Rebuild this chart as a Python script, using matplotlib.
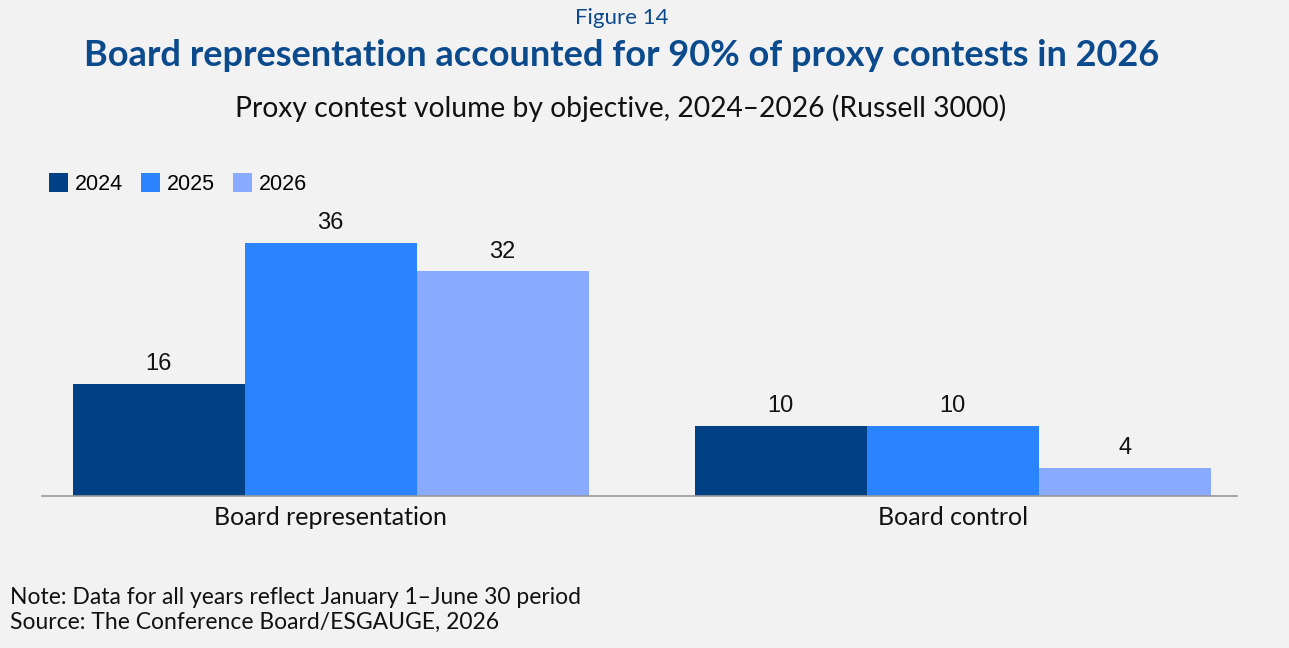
import matplotlib
matplotlib.use("Agg")
import matplotlib.pyplot as plt
import numpy as np

categories = ["Board representation", "Board control"]
years = ["2024", "2025", "2026"]
values_2024 = [16, 10]
values_2025 = [36, 10]
values_2026 = [32, 4]
series = [values_2024, values_2025, values_2026]
colors = ["#004185", "#2b84ff", "#88aaff"]

BG = "#f2f2f2"
TITLE_C = "#0b4a8c"
W, H = 1289, 648
fig = plt.figure(figsize=(W / 100, H / 100), dpi=100, facecolor=BG)

# axes placement in pixels
ax_left, ax_right = 42, 1237
ax_bottom, ax_top = 496, 200
ax = fig.add_axes([ax_left / W, 1 - ax_bottom / H, (ax_right - ax_left) / W, (ax_bottom - ax_top) / H])
ax.set_facecolor(BG)

x = np.arange(len(categories))
bw = 0.2765
xl0 = -0.464
ax.set_xlim(xl0, xl0 + (ax_right - ax_left) / 622)
ax.set_ylim(0, (ax_bottom - ax_top) / 7.03)

for i, (vals, c, lab) in enumerate(zip(series, colors, years)):
    pos = x + (i - 1) * bw
    ax.bar(pos, vals, width=bw, color=c, label=lab, linewidth=0)
    for p, v in zip(pos, vals):
        ax.text(p, v + 1.2, str(v), ha="center", va="bottom",
                fontsize=17, family="Liberation Sans", color="#111111")

for s in ["top", "right", "left"]:
    ax.spines[s].set_visible(False)
ax.spines["bottom"].set_color("#999999")
ax.spines["bottom"].set_linewidth(1.2)
ax.set_yticks([])
ax.set_xticks(x)
ax.set_xticklabels(categories, fontsize=18, family="Lato", color="#111111")
ax.tick_params(axis="x", length=0, pad=7)

# Legend
fig.legend(loc="upper left", bbox_to_anchor=(40 / W, 1 - 164 / H), ncol=3, frameon=False,
           prop={"family": "Liberation Sans", "size": 15.5}, handlelength=0.9, handleheight=1.0,
           handletextpad=0.3, columnspacing=0.85, borderaxespad=0)

# Titles
fig.text(622 / W, 1 - 18 / H, "Figure 14", ha="center", va="center", fontsize=16,
         family="Lato", color=TITLE_C)
fig.text(622 / W, 1 - 55 / H, "Board representation accounted for 90% of proxy contests in 2026",
         ha="center", va="center", fontsize=26, family="Lato", weight="bold", color=TITLE_C)
fig.text(621 / W, 1 - 108 / H, "Proxy contest volume by objective, 2024\u20132026 (Russell 3000)",
         ha="center", va="center", fontsize=20.3, family="Lato", color="#111111")

fig.text(10 / W, 1 - 597 / H, "Note: Data for all years reflect January 1\u2013June 30 period",
         ha="left", va="center", fontsize=16.5, family="Lato", color="#111111")
fig.text(10 / W, 1 - 622 / H, "Source: The Conference Board/ESGAUGE, 2026",
         ha="left", va="center", fontsize=16.5, family="Lato", color="#111111")

fig.savefig("out.png", dpi=100, facecolor=BG)
